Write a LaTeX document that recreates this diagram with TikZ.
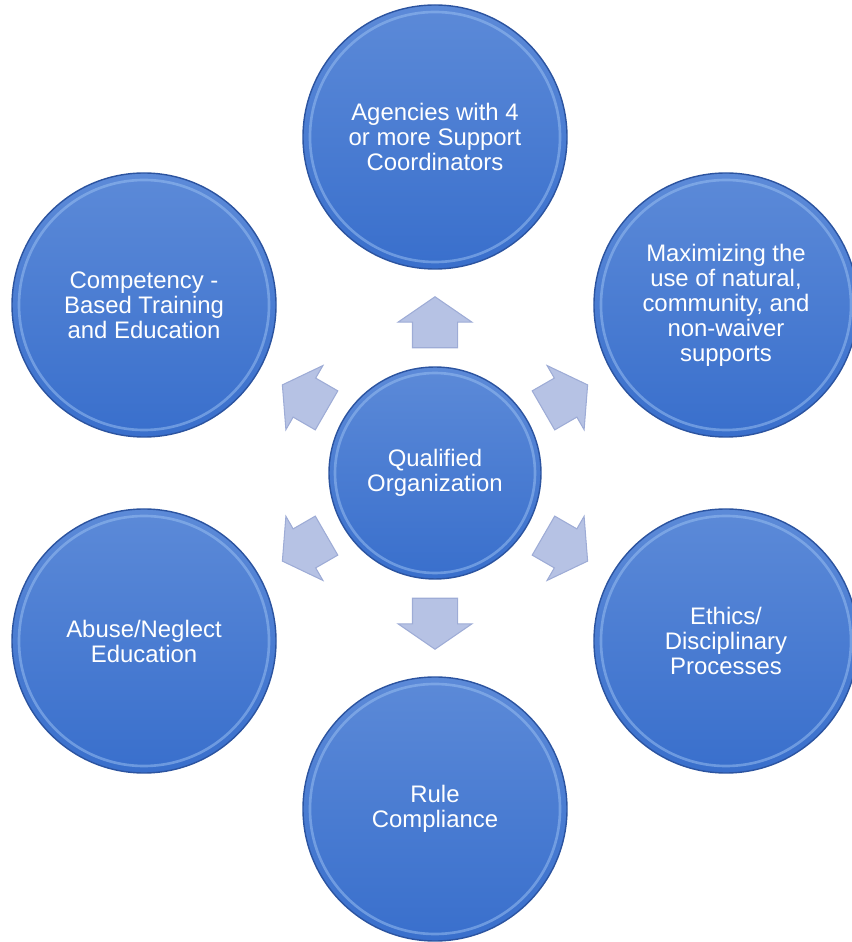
\documentclass[tikz,border=0pt]{standalone}
\usepackage{fontspec}
\setmainfont{Liberation Sans}
\usetikzlibrary{calc,shapes.arrows}
\definecolor{ballhi}{RGB}{92,138,216}
\definecolor{balllo}{RGB}{57,111,204}
\definecolor{ballrim}{RGB}{44,84,160}
\definecolor{ballring}{RGB}{150,188,240}
\definecolor{arrfill}{RGB}{182,194,228}
\definecolor{arrline}{RGB}{158,172,214}
\begin{document}
\begin{tikzpicture}[
ball/.style={circle,draw=ballrim,line width=0.8pt,top color=ballhi,bottom color=balllo,text=white,align=center,inner sep=0pt,font=\fontsize{13.6}{14.2}\selectfont},
outball/.style={ball,minimum size=5.28cm},
ctrball/.style={ball,minimum size=4.24cm},
ring/.style={draw=ballring,line width=1.5pt,opacity=0.55},
pointer/.style={single arrow,draw=arrline,fill=arrfill,line width=0.6pt,minimum height=1.02cm,inner xsep=0pt,inner ysep=0.44cm,single arrow head extend=0.29cm,single arrow tip angle=111,rotate=#1}
]
\pgfmathsetmacro{\kdist}{6.72}
\pgfmathsetmacro{\kptr}{2.86}
\useasboundingbox (0,0) rectangle (17.02,18.84);
\node[ctrball](qo) at (8.70,9.38){Qualified\\Organization};
\draw[ring](qo) circle (2.0);
\foreach \ang/\nm/\txt in {90/agn/{Agencies with 4\\or more Support\\Coordinators},30/nat/{Maximizing the\\use of natural,\\community, and\\non-waiver\\supports},-30/eth/{Ethics/\\Disciplinary\\Processes},-90/rule/{Rule\\Compliance},210/abu/{Abuse/Neglect\\Education},150/comp/{Competency -\\Based Training\\and Education}}{
\node[outball](\nm) at ($(qo)+(\ang:\kdist)$){\txt};
\draw[ring](\nm) circle (2.5);
\node[pointer=\ang](p\nm) at ($(qo)!\kptr cm!(\nm)$){};
}
\end{tikzpicture}
\end{document}
